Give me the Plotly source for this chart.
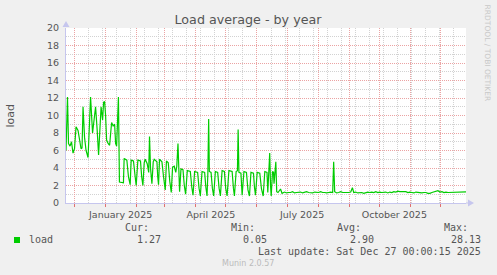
import pandas as pd
import plotly.graph_objects as go

# ---------------- data ----------------
series_start = "2024-11-22 12:00"
range_end = "2025-12-26 12:00"

days_since_start = [
    0, 1.5, 2.5, 4, 5.5, 7, 8.5, 10, 12, 13.5, 15, 16, 17, 18.5, 20, 22, 24.5, 26.5, 28, 29.5,
    31, 32.5, 35, 36.5, 37.5, 38.5, 39.5, 40.5, 42, 43.5, 45.5, 47, 48.5, 49.5, 50.5, 52.3, 53.3, 57.3,
    58, 60.7, 62.3, 64, 65, 67.3, 69, 70, 71.7, 74.3, 75.5, 76.7, 78, 79, 81, 82.5, 83.3, 84.3, 85.7,
    87, 88, 90.7, 91.5, 92.3, 93.3, 95.7, 97.3, 99, 100.2, 102, 103.5, 105, 106.3, 108, 109.5, 110.5,
    111.7, 112.5, 113.3, 114.7, 116.7, 118, 119.3, 121, 124, 125.5, 126.7, 128.3, 131.3, 132.7, 134,
    135.7, 138.3, 139.5, 140.7, 141.5, 142.3, 143, 144.7, 146, 147.3, 149, 151.3, 152.7, 154, 155.7,
    158, 159.3, 160.7, 162.5, 165.7, 167, 168, 169.7, 171, 171.7, 172.5, 174.5, 175.7, 177.5, 180,
    181.5, 183, 184.5, 187, 188, 189, 190.7, 193.3, 195, 196.7, 198.3, 200.5, 201.3, 202.5, 203.2,
    204, 204.7, 206, 207, 207.5, 208.5, 209.3, 210.2, 211.5, 214, 215.5,
    218, 220, 222, 224, 226, 228, 230, 232, 234, 236, 238, 240, 242, 244, 246, 248, 250, 252, 254,
    256, 258, 260, 262, 264, 266, 267, 268, 270, 272, 274, 276, 278, 280, 282, 284, 285.7, 287, 289,
    291, 293, 295, 297, 299, 301, 303, 305, 307, 309, 311, 313, 315, 317, 319, 321, 323, 325, 327,
    329, 331, 333, 335, 337, 339, 341, 343, 345, 347, 349, 351, 353, 355, 357, 359, 361, 363, 365,
    367, 369, 371, 373, 375, 377, 379, 381, 383, 385, 387, 389, 391, 393, 395, 397, 399,
]
load_values = [
    6.0, 12.1, 6.8, 6.5, 7.0, 5.7, 6.2, 8.7, 8.3, 7.0, 6.2, 6.3, 11.0, 7.5, 6.0, 5.2, 12.1, 8.0, 10.0, 11.0,
    8.5, 5.5, 11.0, 9.5, 11.5, 11.6, 10.0, 7.2, 6.8, 6.6, 9.2, 8.8, 9.0, 6.8, 6.5, 12.1, 2.4, 2.3,
    5.1, 4.9, 3.0, 2.1, 4.9, 4.8, 3.0, 2.0, 4.9, 4.8, 3.0, 2.0, 4.6, 5.0, 4.5, 3.5, 7.6, 4.0, 2.2,
    4.7, 5.0, 4.7, 3.0, 2.1, 5.0, 4.7, 3.0, 1.5, 4.8, 4.6, 2.5, 1.2, 4.1, 4.2, 3.5, 4.2,
    6.8, 3.0, 1.3, 3.9, 3.8, 2.0, 1.0, 3.7, 3.6, 1.8, 0.9, 3.6, 3.5, 1.7, 0.8,
    3.6, 3.5, 1.8, 0.8, 3.4, 9.6, 3.6, 3.5, 1.7, 0.8, 3.6, 3.5, 1.7, 0.8, 3.7,
    3.6, 1.7, 0.8, 3.7, 3.6, 1.7, 0.8, 3.6, 3.7, 8.4, 3.5, 3.4, 0.9, 3.6, 3.5,
    1.5, 0.8, 3.5, 3.4, 1.8, 0.9, 3.5, 3.4, 1.6, 0.8, 3.6, 3.5, 1.2, 3.5, 5.7,
    2.0, 0.8, 3.6, 3.5, 2.2, 3.6, 4.7, 1.3, 1.2, 1.6, 1.1,
    1.25, 1.15, 1.2, 1.2, 1.3, 1.15, 1.2, 1.2, 1.25, 1.15, 1.2, 1.3, 1.2, 1.2, 1.15, 1.25, 1.2, 1.2, 1.3,
    1.2, 1.2, 1.15, 1.2, 1.25, 1.2, 4.7, 1.3, 1.15, 1.2, 1.3, 1.2, 1.2, 1.15, 1.2, 1.25, 1.75, 1.2, 1.25,
    1.15, 1.2, 1.2, 1.1, 1.15, 1.25, 1.2, 1.25, 1.2, 1.3, 1.2, 1.25, 1.2, 1.2, 1.25, 1.15, 1.25, 1.2, 1.3,
    1.25, 1.35, 1.3, 1.3, 1.25, 1.3, 1.2, 1.25, 1.2, 1.15, 1.25, 1.2, 1.2, 1.15, 1.2, 1.2, 1.1, 1.1, 1.2,
    1.25, 1.35, 1.4, 1.25, 1.3, 1.2, 1.25, 1.2, 1.2, 1.25, 1.2, 1.2, 1.25, 1.2, 1.2, 1.25, 1.27,
]

month_label_dates = ["2025-01-16", "2025-04-16", "2025-07-16", "2025-10-16"]
month_labels = ["January 2025", "April 2025", "July 2025", "October 2025"]

legend_name = "load"
stat_names = ["Cur:", "Min:", "Avg:", "Max:"]
stat_values = ["1.27", "0.05", "2.90", "28.13"]
last_update = "Last update: Sat Dec 27 00:00:15 2025"

# ---------------- styling ----------------
W, H = 497, 275
L, R, T, B = 66, 466, 28, 203
GREEN = "#00cc00"
MGRID = "#eba3a3"
GRID = "#d2d2d2"
AXIS = "#c6c6ee"
FONT_C = "#555555"


def px(x):
    return (x - L) / (R - L)


def py(y):
    return (B - y) / (B - T)


start = pd.Timestamp(series_start)
dates = [start + pd.Timedelta(days=d) for d in days_since_start]

fig = go.Figure()
fig.add_trace(go.Scatter(x=dates, y=load_values, mode="lines",
                         line=dict(color=GREEN, width=1.2), showlegend=False,
                         hoverinfo="skip"))
# invisible trace to carry the label axis
fig.add_trace(go.Scatter(x=[pd.Timestamp(d) for d in month_label_dates], y=[0] * 4,
                         xaxis="x2", mode="markers", marker=dict(opacity=0),
                         showlegend=False, hoverinfo="skip"))

grid_dash = "1px,1px"
fig.update_layout(
    width=W, height=H,
    margin=dict(l=L, r=W - R, t=T, b=H - B, pad=0),
    paper_bgcolor="#f0f0f0", plot_bgcolor="#ffffff",
    font=dict(family="DejaVu Sans", color=FONT_C, size=9.5),
    showlegend=False,
    title=dict(text="Load average - by year", x=248 / W, xanchor="center",
               y=1 - 20 / H, yanchor="middle", yref="container",
               font=dict(size=12.7, color=FONT_C)),
    xaxis=dict(type="date", range=[series_start, range_end],
               tickmode="linear", tick0="2024-12-01", dtick="M1",
               showticklabels=False, ticks="outside", ticklen=3, tickcolor="#e07070",
               showgrid=True, gridcolor=MGRID, griddash=grid_dash, gridwidth=1,
               minor=dict(tick0="2024-12-01", dtick=14 * 86400000, showgrid=True,
                          gridcolor=GRID, griddash=grid_dash, gridwidth=1, ticks=""),
               showline=True, linecolor=AXIS, linewidth=1, zeroline=False,
               fixedrange=True),
    xaxis2=dict(type="date", range=[series_start, range_end], overlaying="x",
                anchor="y", side="bottom", tickmode="array",
                tickvals=month_label_dates, ticktext=month_labels,
                showgrid=False, ticks="", showline=False, zeroline=False,
                tickfont=dict(size=9.5, color=FONT_C), ticklabelstandoff=4),
    yaxis=dict(range=[0, 20], tickmode="linear", tick0=0, dtick=2,
               showgrid=True, gridcolor=MGRID, griddash=grid_dash, gridwidth=1,
               minor=dict(dtick=1, showgrid=True, gridcolor=GRID,
                          griddash=grid_dash, gridwidth=1),
               showline=True, linecolor=AXIS, linewidth=1, zeroline=False,
               ticks="", tickfont=dict(size=9.5, color=FONT_C),
               ticklabelstandoff=4),
)

shapes = []
# axis arrows
shapes.append(dict(type="path", xref="paper", yref="paper",
                   path=f"M {px(62.5)},{py(27)} L {px(69.5)},{py(27)} L {px(66)},{py(21)} Z",
                   fillcolor=AXIS, line=dict(width=0)))
shapes.append(dict(type="line", xref="paper", yref="paper",
                   x0=px(466), x1=px(468), y0=0, y1=0, line=dict(color=AXIS, width=1)))
shapes.append(dict(type="path", xref="paper", yref="paper",
                   path=f"M {px(468)},{py(199.5)} L {px(468)},{py(206.5)} L {px(474)},{py(203)} Z",
                   fillcolor=AXIS, line=dict(width=0)))
# legend swatch
shapes.append(dict(type="rect", xref="paper", yref="paper",
                   x0=px(14), x1=px(20), y0=py(243), y1=py(237),
                   fillcolor=GREEN, line=dict(width=0)))
fig.update_layout(shapes=shapes)

mono = dict(family="DejaVu Sans Mono", size=10, color=FONT_C)
ann = []


def text(t, x, y, xanchor="left", font=mono, **kw):
    ann.append(dict(text=t, x=px(x), y=py(y), xref="paper", yref="paper",
                    xanchor=xanchor, yanchor="middle", showarrow=False, font=font, **kw))


header_right = [150.7, 257.3, 363.3, 470]
value_right = [162.7, 269.3, 376, 482.7]
for name, xr in zip(stat_names, header_right):
    text(name, xr, 227.3, "right")
for v, xr in zip(stat_values, value_right):
    text(v, xr, 239.3, "right")
text(legend_name, 26.5, 239.3, "left")
text(last_update, 482.7, 251.7, "right")
text("Munin 2.0.57", 247.7, 263.3, "center",
     font=dict(family="DejaVu Sans", size=8, color="#bbbbbb"))
text("load", 10, 115.5, "center", font=dict(family="DejaVu Sans", size=11, color=FONT_C),
     textangle=-90)
text("RRDTOOL / TOBI OETIKER", 487.7, 53.3, "center",
     font=dict(family="DejaVu Sans", size=7.5, color="#c8c8c8"), textangle=90)
fig.update_layout(annotations=ann)

fig.write_html("out.html")
